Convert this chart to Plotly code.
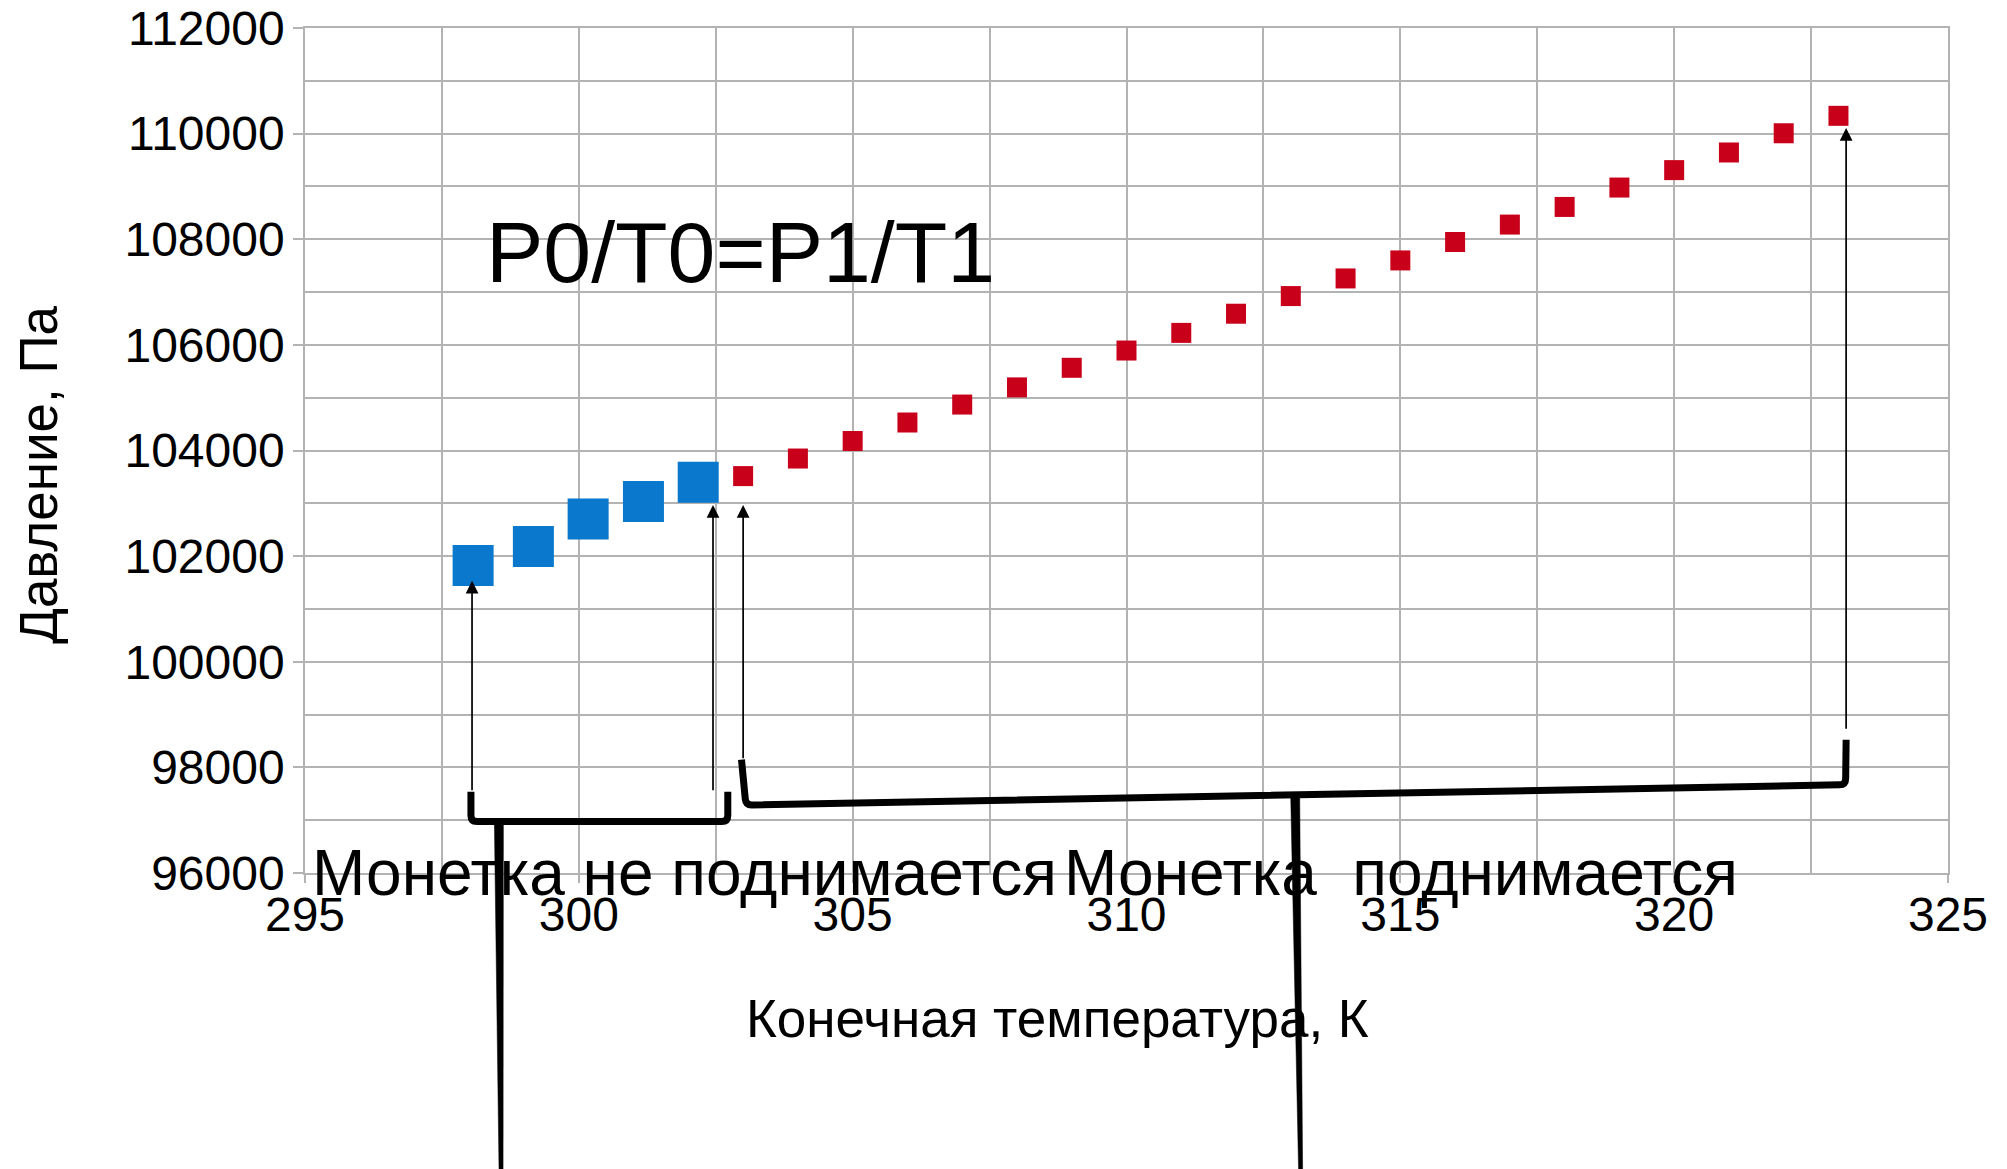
import math
import plotly.graph_objects as go

# ---------------- data ----------------
t_blue = [298.07, 299.17, 300.17, 301.18, 302.18]          # K (coin does not rise)
p_blue = [101823, 102184, 102702, 103034, 103397]          # Pa
t_red = [303, 304, 305, 306, 307, 308, 309, 310, 311, 312, 313,
         314, 315, 316, 317, 318, 319, 320, 321, 322, 323]  # K (coin rises)
p_red = [103515, 103848, 104180, 104530, 104870, 105195, 105566, 105893,
         106227, 106590, 106924, 107258, 107599, 107948, 108278, 108612,
         108979, 109309, 109643, 110007, 110337]           # Pa

x_range = [295, 325]
y_range = [96000, 112000]
x_ticks = [295, 300, 305, 310, 315, 320, 325]
y_ticks = [96000, 98000, 100000, 102000, 104000, 106000, 108000, 110000, 112000]

x_title = "Конечная температура, К"
y_title = "Давление, Па"
formula = "P0/T0=P1/T1"
label_no = "Монетка не поднимается"
label_yes = "Монетка\u00a0 поднимается"

# arrows: (tip T, tip P, tail T, tail P)
arrows = [
    (298.05, 101534, 298.05, 97539),
    (302.45, 102968, 302.45, 97539),
    (303.00, 102968, 303.00, 98146),
    (323.14, 110106, 323.14, 98702),
]

# bracket outlines (T, P) and stems (top, bottom)
left_bracket = [(298.03, 97539), (298.03, 96975), (302.72, 96975), (302.72, 97539)]
right_bracket = [(302.97, 98146), (303.05, 97287), (323.13, 97671), (323.14, 98524)]
left_stem = [(298.54, 96975), (298.58, 90300)]
right_stem = [(313.08, 97479), (313.18, 90300)]

FONT = "Liberation Sans, Arial, sans-serif"
GRID = "#b3b3b3"
W, H = 2007, 1169
MARGIN = dict(l=297, r=67, t=20, b=304)   # page body adds an 8 px offset
PW = W - MARGIN["l"] - MARGIN["r"]
PH = H - MARGIN["t"] - MARGIN["b"]


def fx(t):
    return (t - x_range[0]) / (x_range[1] - x_range[0])


def fy(p):
    return (p - y_range[0]) / (y_range[1] - y_range[0])


def to_px(pt):
    return (fx(pt[0]) * PW, fy(pt[1]) * PH)


def fmt(x, y):
    return "{:.5f},{:.5f}".format(x / PW, y / PH)


def rounded_path(points, r=6.0):
    pts = [to_px(p) for p in points]
    s = "M " + fmt(*pts[0])
    for i in range(1, len(pts) - 1):
        px_, py_ = pts[i]
        ax_, ay_ = pts[i - 1]
        bx_, by_ = pts[i + 1]
        da = math.hypot(ax_ - px_, ay_ - py_)
        db = math.hypot(bx_ - px_, by_ - py_)
        s1 = (px_ + (ax_ - px_) / da * r, py_ + (ay_ - py_) / da * r)
        s2 = (px_ + (bx_ - px_) / db * r, py_ + (by_ - py_) / db * r)
        s += " L " + fmt(*s1) + " Q " + fmt(px_, py_) + " " + fmt(*s2)
    s += " L " + fmt(*pts[-1])
    return s


def wedge_path(top, bottom, w_top=9.0, w_bot=4.0):
    (x1, y1), (x2, y2) = to_px(top), to_px(bottom)
    return ("M " + fmt(x1 - w_top / 2, y1) + " L " + fmt(x1 + w_top / 2, y1) +
            " L " + fmt(x2 + w_bot / 2, y2) + " L " + fmt(x2 - w_bot / 2, y2) + " Z")


fig = go.Figure()
fig.add_trace(go.Scatter(
    x=t_blue, y=p_blue, mode="markers",
    marker=dict(symbol="square", size=41, color="#0a78cc", line=dict(width=0)),
    showlegend=False, hoverinfo="x+y"))
fig.add_trace(go.Scatter(
    x=t_red, y=p_red, mode="markers",
    marker=dict(symbol="square", size=20, color="#c8001a", line=dict(width=0)),
    showlegend=False, hoverinfo="x+y"))

shapes = []
for pts in (left_bracket, right_bracket):
    shapes.append(dict(type="path", xref="paper", yref="paper", path=rounded_path(pts),
                       line=dict(color="black", width=7), layer="above"))
for top, bottom in (left_stem, right_stem):
    shapes.append(dict(type="path", xref="paper", yref="paper", path=wedge_path(top, bottom),
                       fillcolor="black", line=dict(color="black", width=0.5), layer="above"))

annotations = []
for tt, tp, at, ap in arrows:
    annotations.append(dict(x=tt, y=tp, ax=at, ay=ap, xref="x", yref="y",
                            axref="x", ayref="y", text="", showarrow=True,
                            arrowhead=2, arrowsize=1.5, arrowwidth=1.7,
                            arrowcolor="black", standoff=0, startstandoff=0))

annotations += [
    dict(x=302.95, y=107760, xref="x", yref="y", text=formula, showarrow=False,
         font=dict(family=FONT, size=86, color="black"), xanchor="center", yanchor="middle"),
    dict(x=295.1, y=96000, xref="x", yref="y", text=label_no, showarrow=False,
         font=dict(family=FONT, size=64, color="black"), xanchor="left", yanchor="middle"),
    dict(x=308.82, y=96000, xref="x", yref="y", text=label_yes, showarrow=False,
         font=dict(family=FONT, size=64, color="black"), xanchor="left", yanchor="middle"),
    dict(x=0.4583, y=-0.1716, xref="paper", yref="paper", text=x_title, showarrow=False,
         font=dict(family=FONT, size=53, color="black"), xanchor="center", yanchor="middle"),
    dict(x=-0.1625, y=0.471, xref="paper", yref="paper", text=y_title, showarrow=False,
         textangle=-90, font=dict(family=FONT, size=53, color="black"),
         xanchor="center", yanchor="middle"),
]

fig.update_layout(
    width=W, height=H,
    margin=MARGIN,
    plot_bgcolor="white", paper_bgcolor="white",
    font=dict(family=FONT, color="black"),
    showlegend=False,
    shapes=shapes, annotations=annotations,
)
fig.update_xaxes(
    range=x_range, tickmode="array", tickvals=x_ticks, automargin=False,
    ticklabeloverflow="allow",
    showgrid=True, gridcolor=GRID, gridwidth=1.5,
    minor=dict(tickmode="linear", tick0=295, dtick=2.5, showgrid=True,
               gridcolor=GRID, gridwidth=1.5),
    ticks="outside", ticklen=8, tickcolor=GRID, tickwidth=1.5,
    tickfont=dict(family=FONT, size=48, color="black"),
    showline=True, mirror=True, linecolor=GRID, linewidth=1.5,
    zeroline=False, ticklabelstandoff=-9,
)
fig.update_yaxes(
    range=y_range, tickmode="array", tickvals=y_ticks, tickformat="d", automargin=False,
    ticklabeloverflow="allow",
    showgrid=True, gridcolor=GRID, gridwidth=1.5,
    minor=dict(tickmode="linear", tick0=96000, dtick=1000, showgrid=True,
               gridcolor=GRID, gridwidth=1.5),
    ticks="outside", ticklen=10, tickcolor=GRID, tickwidth=1.5,
    tickfont=dict(family=FONT, size=48, color="black"),
    showline=True, mirror=True, linecolor=GRID, linewidth=1.5,
    zeroline=False, ticklabelstandoff=-1,
)

fig.write_html("out.html")
